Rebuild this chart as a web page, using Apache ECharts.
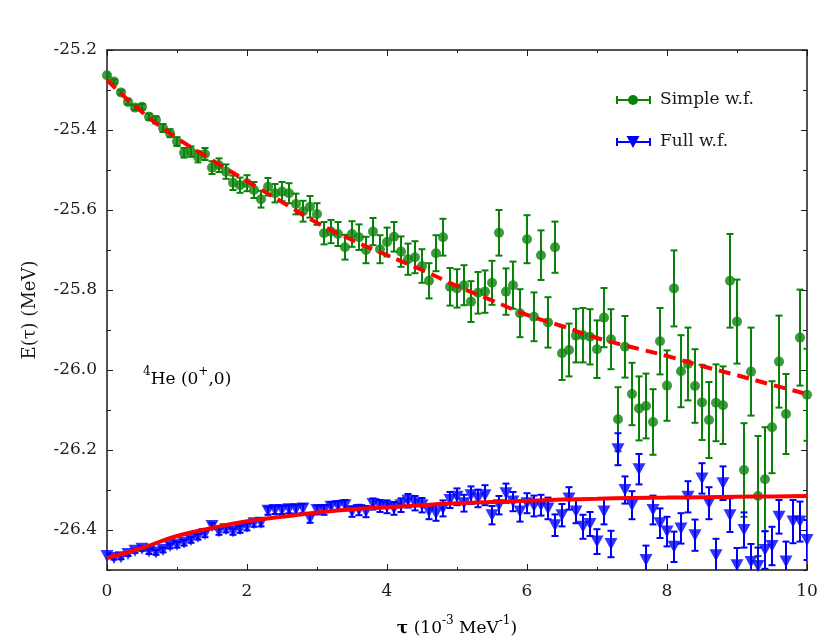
<!DOCTYPE html>
<html>
<head>
<meta charset="utf-8">
<script src="https://cdn.jsdelivr.net/npm/echarts@6/dist/echarts.min.js"></script>
<style>html,body{margin:0;padding:0;background:#fff;}#chart{width:830px;height:642px;}</style>
</head>
<body>
<div id="chart"></div>
<script>
// ---- data ----
var tau = [0.0,0.1,0.2,0.3,0.4,0.5,0.6,0.7,0.8,0.9,
  1.0,1.1,1.2,1.3,1.4,1.5,1.6,1.7,1.8,1.9,
  2.0,2.1,2.2,2.3,2.4,2.5,2.6,2.7,2.8,2.9,
  3.0,3.1,3.2,3.3,3.4,3.5,3.6,3.7,3.8,3.9,
  4.0,4.1,4.2,4.3,4.4,4.5,4.6,4.7,4.8,4.9,
  5.0,5.1,5.2,5.3,5.4,5.5,5.6,5.7,5.8,5.9,
  6.0,6.1,6.2,6.3,6.4,6.5,6.6,6.7,6.8,6.9,
  7.0,7.1,7.2,7.3,7.4,7.5,7.6,7.7,7.8,7.9,
  8.0,8.1,8.2,8.3,8.4,8.5,8.6,8.7,8.8,8.9,
  9.0,9.1,9.2,9.3,9.4,9.5,9.6,9.7,9.8,9.9,10.0];

var simpleE = [-25.263,-25.279,-25.306,-25.330,-25.344,-25.342,-25.367,-25.375,-25.395,-25.408,
  -25.429,-25.457,-25.454,-25.467,-25.460,-25.494,-25.488,-25.504,-25.532,-25.538,
  -25.533,-25.550,-25.573,-25.542,-25.558,-25.554,-25.558,-25.585,-25.603,-25.592,
  -25.610,-25.658,-25.654,-25.660,-25.693,-25.660,-25.668,-25.700,-25.654,-25.698,
  -25.680,-25.667,-25.704,-25.723,-25.718,-25.740,-25.777,-25.708,-25.668,-25.792,
  -25.796,-25.788,-25.829,-25.807,-25.804,-25.782,-25.657,-25.804,-25.788,-25.858,
  -25.673,-25.867,-25.713,-25.881,-25.693,-25.958,-25.950,-25.914,-25.913,-25.917,
  -25.948,-25.869,-25.923,-26.123,-25.942,-26.060,-26.096,-26.090,-26.130,-25.928,
  -26.039,-25.796,-26.003,-25.985,-26.040,-26.081,-26.125,-26.082,-26.088,-25.777,
  -25.879,-26.250,-26.004,-26.315,-26.273,-26.143,-25.979,-26.110,null,-25.919,-26.062];

var simpleErr = [0.004,0.005,0.005,0.006,0.006,0.007,0.008,0.009,0.010,0.010,
  0.011,0.012,0.013,0.014,0.015,0.016,0.017,0.018,0.018,0.019,
  0.020,0.020,0.021,0.022,0.023,0.024,0.025,0.026,0.026,0.027,
  0.027,0.028,0.029,0.030,0.031,0.032,0.032,0.033,0.034,0.035,
  0.036,0.037,0.038,0.039,0.040,0.042,0.044,0.045,0.046,0.047,
  0.048,0.050,0.051,0.052,0.053,0.055,0.057,0.058,0.059,0.060,
  0.060,0.061,0.062,0.063,0.064,0.067,0.066,0.067,0.068,0.069,
  0.072,0.074,0.075,0.080,0.077,0.078,0.080,0.081,0.082,0.083,
  0.088,0.095,0.090,0.091,0.092,0.094,0.095,0.096,0.097,0.117,
  0.105,0.117,0.110,0.150,0.130,0.115,0.115,0.100,null,0.120,0.115];

var fullE = [-26.465,-26.470,-26.468,-26.460,-26.452,-26.447,-26.454,-26.456,-26.450,-26.440,
  -26.437,-26.432,-26.425,-26.417,-26.410,-26.390,-26.404,-26.398,-26.404,-26.398,
  -26.392,-26.383,-26.382,-26.352,-26.350,-26.350,-26.348,-26.348,-26.346,-26.371,
  -26.350,-26.350,-26.342,-26.340,-26.338,-26.354,-26.350,-26.354,-26.335,-26.340,
  -26.342,-26.346,-26.338,-26.327,-26.333,-26.338,-26.354,-26.358,-26.346,-26.325,
  -26.317,-26.333,-26.313,-26.321,-26.313,-26.363,-26.338,-26.308,-26.329,-26.354,
  -26.333,-26.340,-26.338,-26.346,-26.388,-26.363,-26.321,-26.354,-26.392,-26.385,
  -26.429,-26.354,-26.435,-26.198,-26.300,-26.338,-26.248,-26.475,-26.350,-26.383,
  -26.404,-26.442,-26.396,-26.317,-26.413,-26.271,-26.333,-26.463,-26.283,-26.363,
  -26.488,-26.400,-26.480,-26.490,-26.450,-26.440,-26.367,-26.479,-26.379,-26.379,-26.425];

var fullErr = [0.004,0.004,0.005,0.005,0.005,0.005,0.006,0.006,0.006,0.006,
  0.007,0.007,0.007,0.007,0.008,0.008,0.008,0.008,0.008,0.009,
  0.009,0.009,0.009,0.010,0.010,0.010,0.010,0.011,0.011,0.011,
  0.011,0.012,0.012,0.012,0.013,0.013,0.013,0.014,0.014,0.015,
  0.016,0.016,0.017,0.017,0.018,0.018,0.019,0.019,0.020,0.020,
  0.021,0.021,0.022,0.022,0.025,0.023,0.023,0.024,0.024,0.025,
  0.025,0.026,0.026,0.027,0.027,0.028,0.028,0.029,0.030,0.030,
  0.031,0.032,0.033,0.040,0.034,0.035,0.038,0.036,0.036,0.037,
  0.037,0.038,0.038,0.039,0.039,0.038,0.040,0.041,0.042,0.042,
  0.043,0.044,0.045,0.046,0.047,0.048,0.042,0.050,0.054,0.050,0.050];

// fitted curves
var fitTau = [0,0.5,1,1.5,2,2.5,3,3.5,4,4.5,5,5.5,6,6.5,7,7.5,8,8.5,9,9.5,10];
var fitSimple = [-25.275,-25.355,-25.420,-25.475,-25.528,-25.580,-25.632,-25.675,-25.713,-25.750,
  -25.790,-25.826,-25.862,-25.890,-25.920,-25.943,-25.965,-25.990,-26.013,-26.037,-26.060];
var fitFull = [-26.470,-26.445,-26.415,-26.395,-26.378,-26.367,-26.356,-26.348,-26.343,-26.338,
  -26.333,-26.330,-26.327,-26.324,-26.322,-26.320,-26.319,-26.318,-26.317,-26.316,-26.315];

var yTickLabels = [-26.4,-26.2,-26.0,-25.8,-25.6,-25.4,-25.2];
var yMinorTicks = [-26.5,-26.3,-26.1,-25.9,-25.7,-25.5,-25.3];
var xTickLabels = [0,2,4,6,8,10];

// ---- build ----
var GREEN = '#0a820a', BLUE = '#0000ff', RED = '#ff0000', INK = '#1a1a1a';
var FONT = 'DejaVu Serif';

function pts(vals) { var o = []; for (var i = 0; i < tau.length; i++) if (vals[i] != null) o.push([tau[i], vals[i]]); return o; }
function bars(vals, errs) { var o = []; for (var i = 0; i < tau.length; i++) if (vals[i] != null) o.push([tau[i], vals[i] - errs[i], vals[i] + errs[i]]); return o; }
function pairs(xs, ys) { return xs.map(function (x, i) { return [x, ys[i]]; }); }

function errRender(color) {
  return function (params, api) {
    var x = api.value(0), lo = api.value(1), hi = api.value(2);
    var a = api.coord([x, lo]), b = api.coord([x, hi]);
    var c = 3.5;
    var st = { stroke: color, lineWidth: 2 };
    return { type: 'group', children: [
      { type: 'line', shape: { x1: a[0], y1: a[1], x2: b[0], y2: b[1] }, style: st },
      { type: 'line', shape: { x1: a[0] - c, y1: a[1], x2: a[0] + c, y2: a[1] }, style: st },
      { type: 'line', shape: { x1: b[0] - c, y1: b[1], x2: b[0] + c, y2: b[1] }, style: st }
    ]};
  };
}

var lineStyle = { color: INK, width: 1.5 };
function xAx(pos, labels) {
  return {
    type: 'value', position: pos, min: 0, max: 10, interval: 2,
    axisLine: { show: true, onZero: false, lineStyle: lineStyle },
    axisTick: { show: true, inside: true, length: 6, lineStyle: { color: INK, width: 1 } },
    minorTick: { show: true, splitNumber: 2, length: 3, lineStyle: { color: INK, width: 1 } },
    axisLabel: { show: labels, fontFamily: FONT, fontSize: 17, color: INK, margin: 13,
      customValues: xTickLabels, formatter: function (v) { return String(v); } },
    splitLine: { show: false }, minorSplitLine: { show: false }
  };
}
function yAx(pos, labels, ticks, len, line) {
  return {
    type: 'value', position: pos, min: -26.5, max: -25.2,
    axisLine: { show: line, onZero: false, lineStyle: lineStyle },
    axisTick: { show: true, inside: true, length: len, customValues: ticks, lineStyle: { color: INK, width: 1 } },
    axisLabel: { show: labels, fontFamily: FONT, fontSize: 17, color: INK, margin: 10,
      customValues: ticks, formatter: function (v) { return v.toFixed(1); } },
    splitLine: { show: false }
  };
}

var chart = echarts.init(document.getElementById('chart'), null, { renderer: 'canvas' });
chart.setOption({
  backgroundColor: '#fff',
  animation: false,
  grid: { left: 107, right: 23, top: 50, bottom: 72, containLabel: false },
  xAxis: [xAx('bottom', true), xAx('top', false)],
  yAxis: [
    yAx('left', true, yTickLabels, 6, true),
    yAx('right', false, yTickLabels, 6, true),
    yAx('left', false, yMinorTicks, 4, false),
    yAx('right', false, yMinorTicks, 4, false)
  ],
  series: [
    { type: 'custom', name: 'Simple err', renderItem: errRender(GREEN), data: bars(simpleE, simpleErr), clip: true, z: 2,
      encode: { x: 0, y: [1, 2] } },
    { type: 'scatter', name: 'Simple w.f.', data: pts(simpleE), symbol: 'circle', symbolSize: 10,
      itemStyle: { color: GREEN }, clip: true, z: 3 },
    { type: 'custom', name: 'Full err', renderItem: errRender(BLUE), data: bars(fullE, fullErr), clip: true, z: 4,
      encode: { x: 0, y: [1, 2] } },
    { type: 'scatter', name: 'Full w.f.', data: pts(fullE), symbol: 'triangle', symbolRotate: 180, symbolSize: [13, 12],
      itemStyle: { color: BLUE }, clip: true, z: 5 },
    { type: 'line', name: 'fit simple', data: pairs(fitTau, fitSimple), smooth: true, showSymbol: false, symbol: 'none',
      lineStyle: { color: RED, width: 4, type: [12, 7] }, z: 6, clip: true },
    { type: 'line', name: 'fit full', data: pairs(fitTau, fitFull), smooth: true, showSymbol: false, symbol: 'none',
      lineStyle: { color: RED, width: 4 }, z: 6, clip: true }
  ],
  graphic: [
    // legend entry 1
    { type: 'line', shape: { x1: 617, y1: 100, x2: 650, y2: 100 }, style: { stroke: GREEN, lineWidth: 2 }, z: 10 },
    { type: 'line', shape: { x1: 617, y1: 96, x2: 617, y2: 104 }, style: { stroke: GREEN, lineWidth: 2 }, z: 10 },
    { type: 'line', shape: { x1: 650, y1: 96, x2: 650, y2: 104 }, style: { stroke: GREEN, lineWidth: 2 }, z: 10 },
    { type: 'circle', shape: { cx: 633, cy: 100, r: 5 }, style: { fill: GREEN }, z: 10 },
    { type: 'text', x: 660, y: 100, style: { text: 'Simple w.f.', font: '17px "DejaVu Serif"', fill: INK, textVerticalAlign: 'middle' }, z: 10 },
    // legend entry 2
    { type: 'line', shape: { x1: 617, y1: 142, x2: 650, y2: 142 }, style: { stroke: BLUE, lineWidth: 2 }, z: 10 },
    { type: 'line', shape: { x1: 617, y1: 138, x2: 617, y2: 146 }, style: { stroke: BLUE, lineWidth: 2 }, z: 10 },
    { type: 'line', shape: { x1: 650, y1: 138, x2: 650, y2: 146 }, style: { stroke: BLUE, lineWidth: 2 }, z: 10 },
    { type: 'polygon', shape: { points: [[626.5, 136], [639.5, 136], [633, 148]] }, style: { fill: BLUE }, z: 10 },
    { type: 'text', x: 660, y: 142, style: { text: 'Full w.f.', font: '17px "DejaVu Serif"', fill: INK, textVerticalAlign: 'middle' }, z: 10 },
    // annotation
    { type: 'text', x: 143, y: 377, z: 10, style: {
      text: '{s|4}{n|He (0}{s|+}{n|,0)}', textVerticalAlign: 'middle',
      rich: { n: { fontFamily: FONT, fontSize: 17, color: INK, verticalAlign: 'bottom', lineHeight: 22 },
              s: { fontFamily: FONT, fontSize: 12, color: INK, verticalAlign: 'top', lineHeight: 22, padding: [0, 0, 0, 0] } } } },
    // x axis title
    { type: 'text', x: 457, y: 626, z: 10, style: {
      text: '{b|τ}{n| (10}{s|-3}{n| MeV}{s|-1}{n|)}', textAlign: 'center', textVerticalAlign: 'middle',
      rich: { b: { fontFamily: FONT, fontSize: 17, fontWeight: 'bold', color: INK, verticalAlign: 'bottom', lineHeight: 22 },
              n: { fontFamily: FONT, fontSize: 17, color: INK, verticalAlign: 'bottom', lineHeight: 22 },
              s: { fontFamily: FONT, fontSize: 12, color: INK, verticalAlign: 'top', lineHeight: 22 } } } },
    // y axis title
    { type: 'text', x: 30, y: 310, rotation: Math.PI / 2, z: 10, style: {
      text: 'E(τ) (MeV)', font: '18px "DejaVu Serif"', fill: INK, textAlign: 'center', textVerticalAlign: 'middle' } }
  ]
});
</script>
</body>
</html>
